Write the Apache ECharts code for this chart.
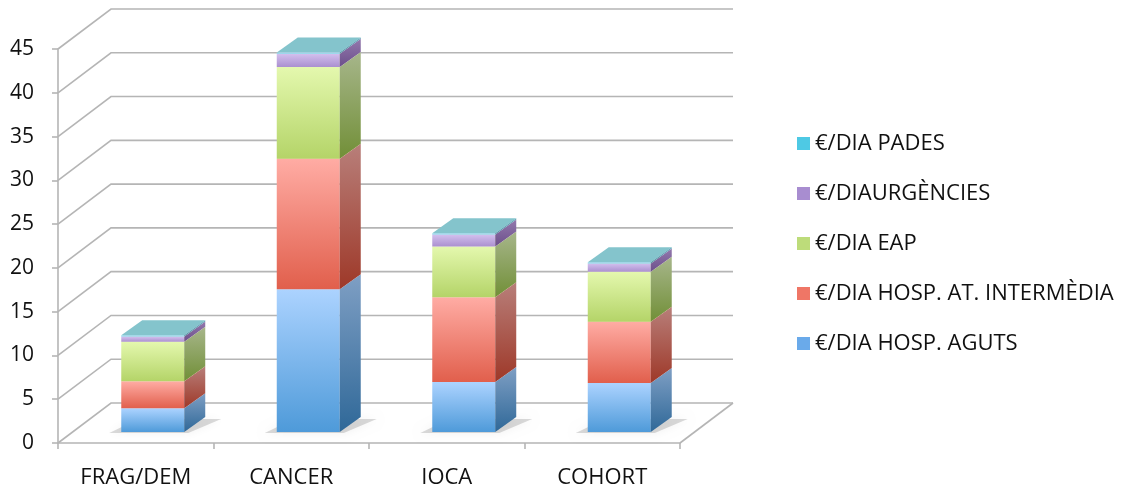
<!DOCTYPE html>
<html>
<head>
<meta charset="utf-8">
<script src="https://cdn.jsdelivr.net/npm/echarts@6/dist/echarts.min.js"></script>
<style>
html,body{margin:0;padding:0;background:#fff;}
#c{width:1123px;height:491px;}
</style>
</head>
<body>
<div id="c"></div>
<script>
// ---- data ----
var categories = ['FRAG/DEM', 'CANCER', 'IOCA', 'COHORT'];
var seriesNames = ['€/DIA HOSP. AGUTS', '€/DIA HOSP. AT. INTERMÈDIA', '€/DIA EAP', '€/DIAURGÈNCIES', '€/DIA PADES'];
var aguts = [2.7, 16.3, 5.7, 5.6];
var intermedia = [3.1, 14.9, 9.7, 7.0];
var eap = [4.5, 10.5, 5.8, 5.7];
var urgencies = [0.6, 1.5, 1.35, 0.95];
var pades = [0.15, 0.15, 0.15, 0.15];
var yTicks = [0, 5, 10, 15, 20, 25, 30, 35, 40, 45];

// ---- styling ----
var FONT = 'Open Sans';
var GRID_COLOR = '#b5b5b5';
var WALL_DX = 53, WALL_DY = 40;      // depth of the chart box
var BAR_OX = 17, BAR_OY = -11;       // bar front plane offset
var BAR_DX = 21, BAR_DY = 15;        // bar depth
var BAR_W = 0.405;                   // bar width as share of band
var palette = [
  {front: ['#acd3ff', '#4e9ad9'], side: ['#7f9fc4', '#2f6898'], top: '#c6e0ff', legend: '#6aaaea'},
  {front: ['#ffaca4', '#e15f4c'], side: ['#b87f7a', '#9e3828'], top: '#ffc4bd', legend: '#ef7666'},
  {front: ['#e4f8ae', '#b4d468'], side: ['#a7b68b', '#718f37'], top: '#eefac8', legend: '#bddc7a'},
  {front: ['#d3c0ee', '#ab90d0'], side: ['#9379ad', '#6c4f8b'], top: '#dccff0', legend: '#a88dd0'},
  {front: ['#a6e8f4', '#7fd6ea'], side: ['#62aab8', '#4f93a0'], top: '#84c4cc', legend: '#4ec9e4'}
];

var valueArrays = [aguts, intermedia, eap, urgencies, pades];

function grad(c) {
  return new echarts.graphic.LinearGradient(0, 0, 0, 1, [
    {offset: 0, color: c[0]}, {offset: 1, color: c[1]}
  ]);
}

// stacked ranges
var stacked = [];
var cum = categories.map(function () { return 0; });
valueArrays.forEach(function (arr, si) {
  stacked.push(arr.map(function (v, ci) {
    var b = cum[ci];
    cum[ci] = b + v;
    return [ci, b, b + v];
  }));
});

function barRender(si) {
  return function (params, api) {
    var ci = api.value(0), b = api.value(1), t = api.value(2);
    var pb = api.coord([ci, b]);
    var pt = api.coord([ci, t]);
    var band = api.size([1, 0])[0];
    var w = band * BAR_W;
    var x0 = pb[0] + BAR_OX - w / 2, x1 = x0 + w;
    var yb = pb[1] + BAR_OY, yt = pt[1] + BAR_OY;
    var p = palette[si];
    var children = [];
    if (si === 0) {
      children.push({
        type: 'polygon',
        shape: {points: [[x0 - 12, yb + 1], [x1 + 4, yb + 1], [x1 + BAR_DX + 16, yb - BAR_DY + 2], [x0 + BAR_DX - 4, yb - BAR_DY + 2]]},
        style: {fill: 'rgba(0,0,0,0.14)', shadowBlur: 10, shadowColor: 'rgba(0,0,0,0.4)'}
      });
    }
    children.push({
      type: 'rect',
      shape: {x: x0, y: yt, width: w, height: yb - yt},
      style: {fill: grad(p.front)}
    });
    children.push({
      type: 'polygon',
      shape: {points: [[x1, yb], [x1 + BAR_DX, yb - BAR_DY], [x1 + BAR_DX, yt - BAR_DY], [x1, yt]]},
      style: {fill: grad(p.side)}
    });
    children.push({
      type: 'polygon',
      shape: {points: [[x0, yt], [x1, yt], [x1 + BAR_DX, yt - BAR_DY], [x0 + BAR_DX, yt - BAR_DY]]},
      style: {fill: p.top}
    });
    return {type: 'group', children: children};
  };
}

function wallRender(params, api) {
  var v = api.value(1);
  var band = api.size([1, 0])[0];
  var pl = api.coord([0, v]);
  var pr = api.coord([categories.length - 1, v]);
  var xl = pl[0] - band / 2, xr = pr[0] + band / 2, y = pl[1];
  var children = [{
    type: 'polyline',
    shape: {points: [[xl, y], [xl + WALL_DX, y - WALL_DY], [xr + WALL_DX, y - WALL_DY]]},
    style: {stroke: GRID_COLOR, lineWidth: 1.6, fill: null}
  }];
  if (v === 0) {
    children.push({
      type: 'line',
      shape: {x1: xr, y1: y, x2: xr + WALL_DX, y2: y - WALL_DY},
      style: {stroke: GRID_COLOR, lineWidth: 1.6}
    });
  }
  return {type: 'group', children: children};
}

var series = [{
  type: 'custom',
  name: 'walls',
  renderItem: wallRender,
  data: yTicks.map(function (v) { return [0, v]; }),
  encode: {x: 0, y: 1},
  clip: false,
  silent: true,
  z: 1
}];
seriesNames.forEach(function (n, si) {
  series.push({
    type: 'custom',
    name: n,
    renderItem: barRender(si),
    data: stacked[si],
    encode: {x: 0, y: [1, 2]},
    itemStyle: {color: palette[si].legend},
    clip: false,
    z: 3
  });
});

var chart = echarts.init(document.getElementById('c'), null, {renderer: 'canvas'});
chart.setOption({
  animation: false,
  backgroundColor: '#ffffff',
  grid: {left: 58, right: 443, top: 49, bottom: 48, containLabel: false},
  legend: {
    orient: 'vertical',
    left: 792,
    top: 127,
    icon: 'rect',
    itemWidth: 13,
    itemHeight: 13,
    itemGap: 27,
    data: seriesNames.slice().reverse(),
    textStyle: {fontFamily: FONT, fontSize: 22, color: '#111', lineHeight: 23},
    selectedMode: false
  },
  xAxis: {
    type: 'category',
    data: categories,
    boundaryGap: true,
    axisLine: {show: true, lineStyle: {color: GRID_COLOR, width: 1.6}},
    axisTick: {show: true, length: 6, lineStyle: {color: GRID_COLOR, width: 1.6}},
    axisLabel: {fontFamily: FONT, fontSize: 22, color: '#111', margin: 24},
    splitLine: {show: false}
  },
  yAxis: {
    type: 'value',
    min: 0,
    max: 45,
    interval: 5,
    axisLine: {show: true, lineStyle: {color: GRID_COLOR, width: 1.6}},
    axisTick: {show: true, length: 6, lineStyle: {color: GRID_COLOR, width: 1.6}},
    axisLabel: {fontFamily: FONT, fontSize: 21, color: '#111', margin: 24},
    splitLine: {show: false}
  },
  series: series
});
</script>
</body>
</html>
